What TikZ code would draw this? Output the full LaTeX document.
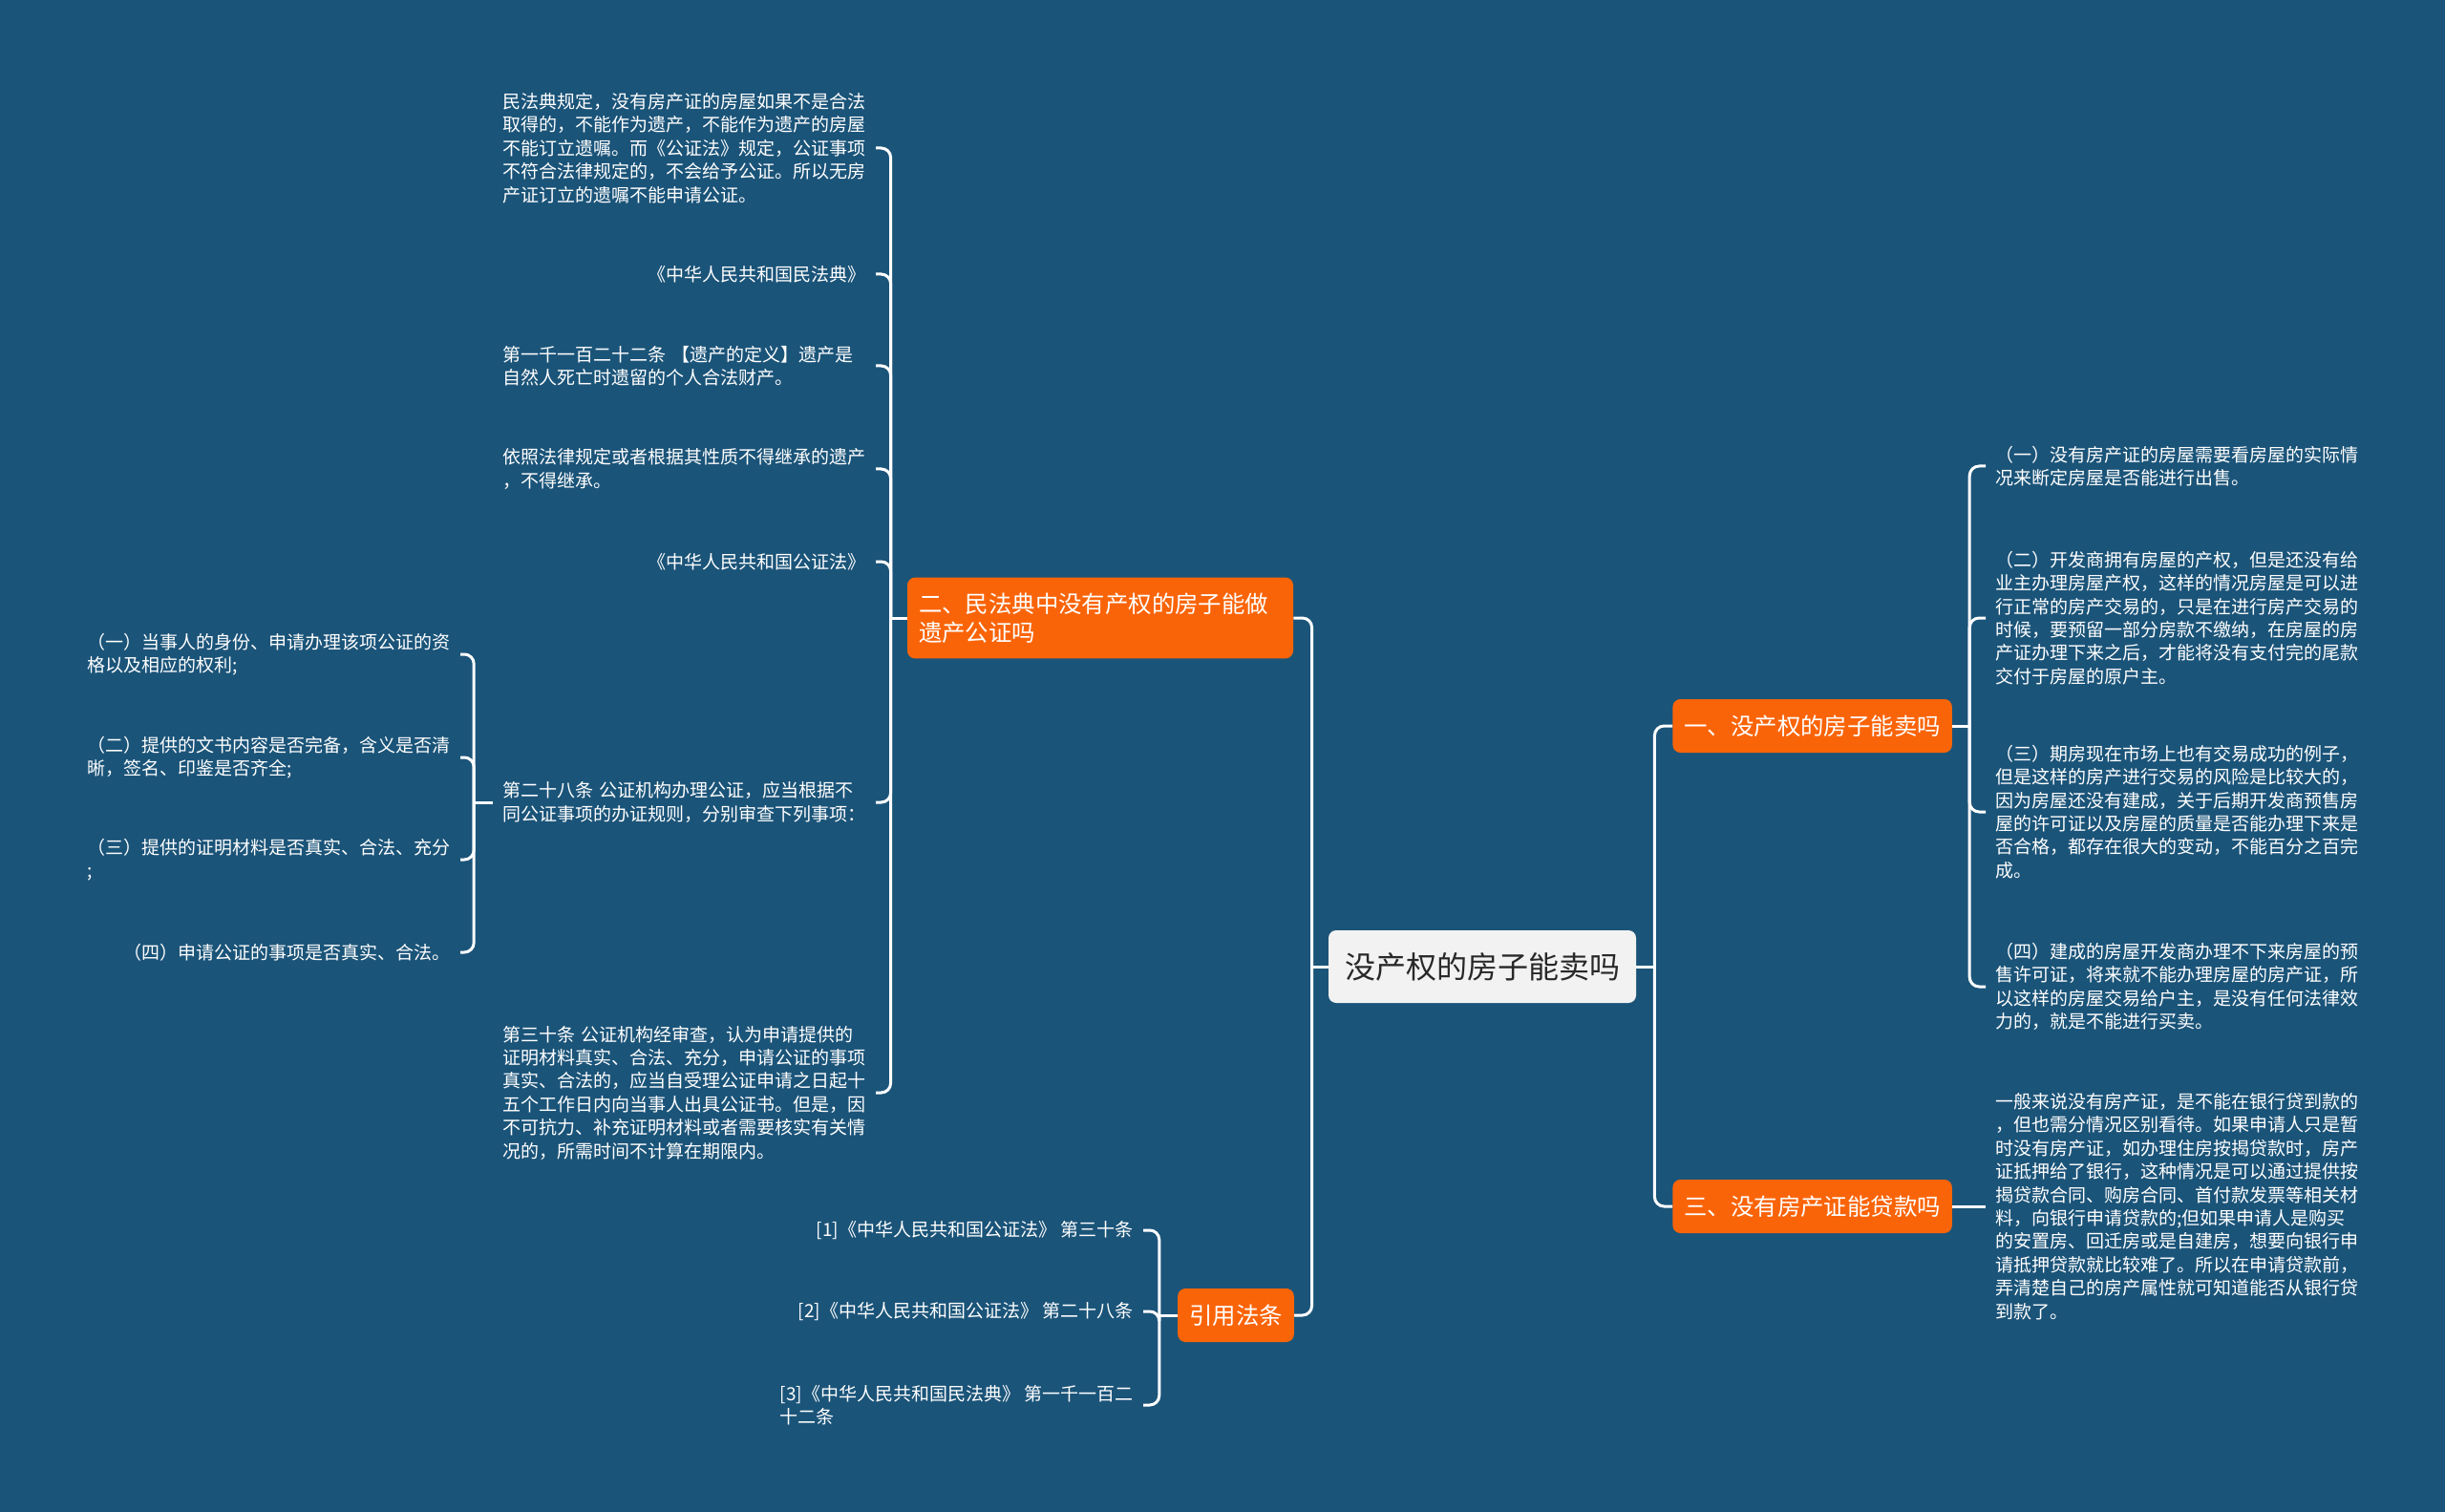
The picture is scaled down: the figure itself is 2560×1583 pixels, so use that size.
\documentclass[tikz,border=0pt]{standalone}
\usepackage{fontspec}
\setmainfont{Noto Sans CJK SC}
\usepackage{xcolor}
\usepackage{tikz}
\usetikzlibrary{calc}

\definecolor{bgblue}{RGB}{27,84,121}
\definecolor{topicorange}{RGB}{250,100,8}
\definecolor{rootfill}{RGB}{242,242,242}
\definecolor{roottext}{RGB}{40,40,40}

\begin{document}
\begin{tikzpicture}[x=0.5pt, y=-0.5pt,
  rootbox/.style={fill=rootfill, text=roottext, rounded corners=4pt,
    font=\fontsize{16pt}{19pt}\selectfont, inner xsep=8.5pt, minimum height=38pt},
  topicbox/.style={fill=topicorange, text=white, rounded corners=4pt,
    font=\fontsize{12.2pt}{15pt}\selectfont, inner xsep=6pt, minimum height=28pt, align=left},
  leaf/.style={text=white, font=\fontsize{9.5pt}{12.2pt}\selectfont, align=left,
    inner xsep=5pt, inner ysep=2pt},
  para/.style={leaf, text width=190pt},
  link/.style={draw=white, line width=1.5pt, rounded corners=5pt}]
\fill[bgblue] (0,0) rectangle (2560,1583);
% root
\node (root) [rootbox] at (1552,1012) {没产权的房子能卖吗};
% main topics
\node (civil) [topicbox, text width=190pt, inner ysep=8pt] at (1152,647) {二、民法典中没有产权的房子能做\\遗产公证吗};
\node (law) [topicbox] at (1294,1377) {引用法条};
\node (sell) [topicbox, anchor=west] at (1751,760) {一、没产权的房子能卖吗};
\node (loan) [topicbox, anchor=west] at (1751,1263) {三、没有房产证能贷款吗};
% trunks
\coordinate (rootL) at ($(root.west)+(-17,0)$);
\coordinate (rootR) at ($(root.east)+(19,0)$);
\coordinate (civT) at ($(civil.west)+(-17,0)$);
\coordinate (lawT) at ($(law.west)+(-19,0)$);
\coordinate (sellT) at ($(sell.east)+(18,0)$);
% sell branch
\node (s1) [para, anchor=west] at (2079,488) {（一）没有房产证的房屋需要看房屋的实际情\\况来断定房屋是否能进行出售。};
\node (s2) [para, anchor=west] at (2079,647) {（二）开发商拥有房屋的产权，但是还没有给\\业主办理房屋产权，这样的情况房屋是可以进\\行正常的房产交易的，只是在进行房产交易的\\时候，要预留一部分房款不缴纳，在房屋的房\\产证办理下来之后，才能将没有支付完的尾款\\交付于房屋的原户主。};
\node (s3) [para, anchor=west] at (2079,850) {（三）期房现在市场上也有交易成功的例子，\\但是这样的房产进行交易的风险是比较大的，\\因为房屋还没有建成，关于后期开发商预售房\\屋的许可证以及房屋的质量是否能办理下来是\\否合格，都存在很大的变动，不能百分之百完\\成。};
\node (s4) [para, anchor=west] at (2079,1033) {（四）建成的房屋开发商办理不下来房屋的预\\售许可证，将来就不能办理房屋的房产证，所\\以这样的房屋交易给户主，是没有任何法律效\\力的，就是不能进行买卖。};
% loan branch
\node (o1) [para, anchor=west] at (2079,1263) {一般来说没有房产证，是不能在银行贷到款的\\，但也需分情况区别看待。如果申请人只是暂\\时没有房产证，如办理住房按揭贷款时，房产\\证抵押给了银行，这种情况是可以通过提供按\\揭贷款合同、购房合同、首付款发票等相关材\\料，向银行申请贷款的;但如果申请人是购买\\的安置房、回迁房或是自建房，想要向银行申\\请抵押贷款就比较难了。所以在申请贷款前，\\弄清楚自己的房产属性就可知道能否从银行贷\\到款了。};
% civil code branch
\node (c1) [para, anchor=east] at (917,155) {民法典规定，没有房产证的房屋如果不是合法\\取得的，不能作为遗产，不能作为遗产的房屋\\不能订立遗嘱。而《公证法》规定，公证事项\\不符合法律规定的，不会给予公证。所以无房\\产证订立的遗嘱不能申请公证。};
\node (c2) [leaf, anchor=east] at (917,287) {《中华人民共和国民法典》};
\node (c3) [para, anchor=east] at (917,383) {第一千一百二十二条 【遗产的定义】遗产是\\自然人死亡时遗留的个人合法财产。};
\node (c4) [para, anchor=east] at (917,491) {依照法律规定或者根据其性质不得继承的遗产\\，不得继承。};
\node (c5) [leaf, anchor=east] at (917,588) {《中华人民共和国公证法》};
\node (c6) [para, anchor=east] at (917,840) {第二十八条 公证机构办理公证，应当根据不\\同公证事项的办证规则，分别审查下列事项：};
\node (c7) [para, anchor=east] at (917,1144) {第三十条 公证机构经审查，认为申请提供的\\证明材料真实、合法、充分，申请公证的事项\\真实、合法的，应当自受理公证申请之日起十\\五个工作日内向当事人出具公证书。但是，因\\不可抗力、补充证明材料或者需要核实有关情\\况的，所需时间不计算在期限内。};
% article 28 items
\coordinate (artT) at ($(c6.west)+(-20,0)$);
\node (m1) [para, anchor=east] at (482,685) {（一）当事人的身份、申请办理该项公证的资\\格以及相应的权利;};
\node (m2) [para, anchor=east] at (482,793) {（二）提供的文书内容是否完备，含义是否清\\晰，签名、印鉴是否齐全;};
\node (m3) [para, anchor=east] at (482,900) {（三）提供的证明材料是否真实、合法、充分\\;};
\node (m4) [leaf, anchor=east] at (482,997) {（四）申请公证的事项是否真实、合法。};
% cited articles
\node (r1) [leaf, anchor=east] at (1197,1288) {[1]《中华人民共和国公证法》 第三十条};
\node (r2) [leaf, anchor=east] at (1197,1373) {[2]《中华人民共和国公证法》 第二十八条};
\node (r3) [leaf, anchor=east] at (1197,1471) {[3]《中华人民共和国民法典》 第一千一百二\\十二条};
% connectors
\draw[link] (root.west) -- (rootL);
\draw[link] (root.east) -- (rootR);
\foreach \t in {civil,law} \draw[link] (rootL) |- (\t.east);
\foreach \t in {sell,loan} \draw[link] (rootR) |- (\t.west);
\draw[link] (sell.east) -- (sellT);
\foreach \t in {s1,s2,s3,s4} \draw[link] (sellT) |- (\t.west);
\draw[link] (loan.east) -- (o1.west);
\draw[link] (civil.west) -- (civT);
\foreach \t in {c1,c2,c3,c4,c5,c6,c7} \draw[link] (civT) |- (\t.east);
\draw[link] (c6.west) -- (artT);
\foreach \t in {m1,m2,m3,m4} \draw[link] (artT) |- (\t.east);
\draw[link] (law.west) -- (lawT);
\foreach \t in {r1,r2,r3} \draw[link] (lawT) |- (\t.east);
\end{tikzpicture}
\end{document}
